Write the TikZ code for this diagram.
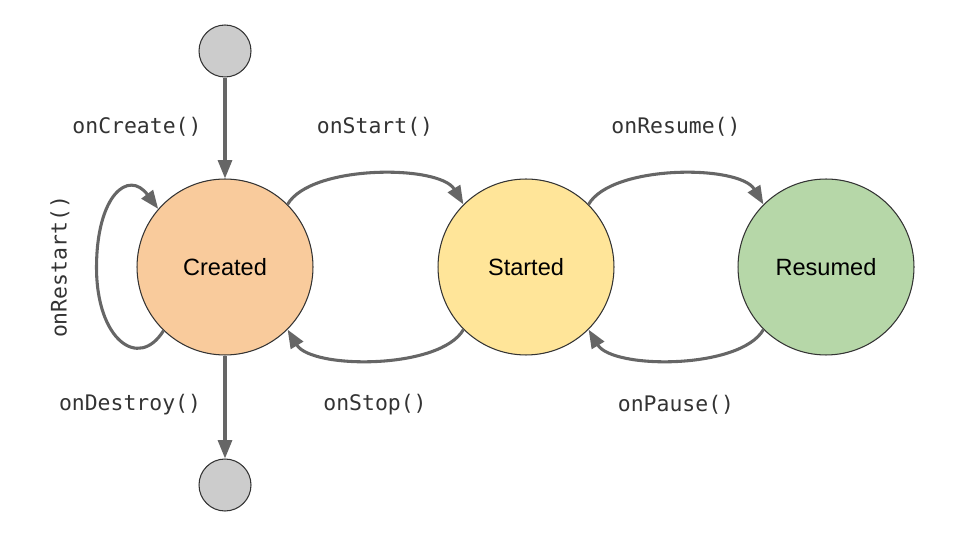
\documentclass[tikz,border=0pt]{standalone}
\usepackage{fontspec}
\setmainfont{Liberation Sans}
\newfontfamily\monofnt{DejaVu Sans Mono}
\usetikzlibrary{arrows.meta}
\definecolor{createdc}{HTML}{F9CB9C}
\definecolor{startedc}{HTML}{FFE599}
\definecolor{resumedc}{HTML}{B6D7A8}
\definecolor{termc}{HTML}{CCCCCC}
\definecolor{linec}{HTML}{666666}
\definecolor{borderc}{HTML}{333333}
\definecolor{textc}{HTML}{333333}
\tikzset{
  state/.style={circle, draw=borderc, line width=0.6pt, minimum size=3.52cm, inner sep=0pt,
    font=\fontsize{13.4}{16}\selectfont, text=black},
  term/.style={circle, draw=borderc, line width=0.6pt, fill=termc, minimum size=1.04cm, inner sep=0pt},
  conn/.style={draw=linec, line width=1.75pt, -{Triangle[length=10.5pt,width=8pt]}, fill=none},
  lbl/.style={font=\monofnt\fontsize{12.2}{14}\selectfont, text=textc, inner sep=0pt}
}
\begin{document}
\begin{tikzpicture}[x=0.02cm,y=-0.02cm]
\useasboundingbox (0,0) rectangle (960,540);
\node[state, fill=createdc] (created) at (225,267) {Created};
\node[state, fill=startedc] (started) at (526,267) {Started};
\node[state, fill=resumedc] (resumed) at (826,267) {Resumed};
\node[term] (init) at (225,51) {};
\node[term] (fin) at (225,485) {};

\draw[conn] (init) -- (created);
\draw[conn] (created) -- (fin);
\draw[conn] (created.45) .. controls +(23,-40) and +(-24,-40) .. (started.135);
\draw[conn] (started.225) .. controls +(-23,40) and +(24,40) .. (created.-45);
\draw[conn] (started.45) .. controls +(23,-40) and +(-24,-40) .. (resumed.135);
\draw[conn] (resumed.225) .. controls +(-23,40) and +(24,40) .. (started.-45);
\draw[conn] (created.226) .. controls +(-25,40) and +(0,72) .. ++(-67,-63)
  .. controls +(0,-72) and +(-30,-40) .. (created.139);

\node[lbl] (lcreate) at (137,127) {onCreate()};
\node[lbl] (lstart) at (375,127) {onStart()};
\node[lbl] (lresume) at (676,127) {onResume()};
\node[lbl] (lstop) at (375,405) {onStop()};
\node[lbl] (lpause) at (676,405) {onPause()};
\node[lbl] (ldestroy) at (130,405) {onDestroy()};
\node[lbl, rotate=90] (lrestart) at (60,267) {onRestart()};
\end{tikzpicture}
\end{document}
